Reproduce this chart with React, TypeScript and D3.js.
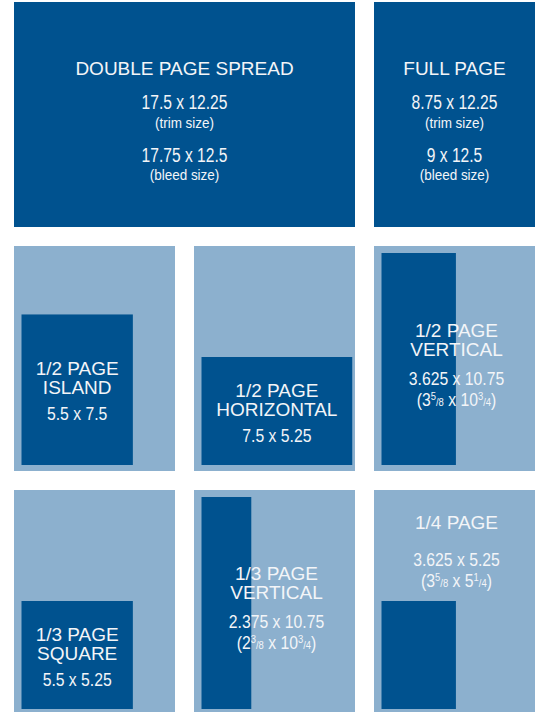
import * as d3 from "d3";

// top row: the two full-size formats
const spreadNames = ["DOUBLE PAGE SPREAD", "FULL PAGE"];
const trimSizes = ["17.5 x 12.25", "8.75 x 12.25"];
const bleedSizes = ["17.75 x 12.5", "9 x 12.5"];

// the six partial-page ads (inches)
const adNames = [
  ["1/2 PAGE", "ISLAND"],
  ["1/2 PAGE", "HORIZONTAL"],
  ["1/2 PAGE", "VERTICAL"],
  ["1/3 PAGE", "SQUARE"],
  ["1/3 PAGE", "VERTICAL"],
  ["1/4 PAGE"],
];
const adWidths = [5.5, 7.5, 3.625, 5.5, 2.375, 3.625];
const adHeights = [7.5, 5.25, 10.75, 5.25, 10.75, 5.25];
// [whole, numerator, denominator] for width and height, where printed
const adFractions = [
  null,
  null,
  [[3, 5, 8], [10, 3, 4]],
  null,
  [[2, 3, 8], [10, 3, 4]],
  [[3, 5, 8], [5, 1, 4]],
];

const DARK = "#00528f";
const LIGHT = "#8cb0ce";
const INK = "#f3f5f8";
const FONT = "'Liberation Sans', Arial, sans-serif";

// how each ad sits on its page and where its label goes
const adLayout = [
  { anchor: "bottom", center: "rect", y0: 129, gap: 26 },
  { anchor: "bottom", center: "rect", y0: 151, gap: 26 },
  { anchor: "top", center: "panel", y0: 91, gap: 29 },
  { anchor: "bottom", center: "rect", y0: 151, gap: 26 },
  { anchor: "top", center: "panel", y0: 90, gap: 29 },
  { anchor: "bottom", center: "panel", y0: 39, gap: 37 },
];

const col = d3.scaleBand<number>().domain([0, 1, 2]).range([14, 535]).paddingInner(19 / 180);
const row = d3.scaleBand<number>().domain([0, 1, 2]).range([2, 715]).paddingInner(19 / 244);
// the ad boxes are only roughly to scale in the original
const inchX = d3.scaleLinear().domain([0, 10]).range([3, 200]);
const inchY = d3.scaleLinear().domain([5.25, 10.75]).range([108, 212]);

function Label({ x, y, text, size, sx = 1 }: any) {
  return (
    <text
      transform={`translate(${x},${y}) scale(${sx},1)`}
      textAnchor="middle"
      fontSize={size}
      fontFamily={FONT}
      fill={INK}
    >
      {text}
    </text>
  );
}

function Fraction({ x, y, parts, size, sx }: any) {
  const small = size * 0.6;
  const up = size * 0.32;
  const piece = ([w, n, d]: number[]) => [
    <tspan key="w">{w}</tspan>,
    <tspan key="n" fontSize={small} dy={-up}>{n}</tspan>,
    <tspan key="s" fontSize={small} dy={up}>/</tspan>,
    <tspan key="d" fontSize={small}>{d}</tspan>,
  ];
  return (
    <text
      transform={`translate(${x},${y}) scale(${sx},1)`}
      textAnchor="middle"
      fontSize={size}
      fontFamily={FONT}
      fill={INK}
    >
      (<tspan>{piece(parts[0])}</tspan> x <tspan>{piece(parts[1])}</tspan>)
    </text>
  );
}

export default function App() {
  const bw = col.bandwidth();
  const bh = row.bandwidth();
  const top = row(0)!;

  const spreads = spreadNames.map((name, i) => {
    const x0 = i === 0 ? col(0)! : col(2)!;
    const x1 = i === 0 ? col(1)! + bw : col(2)! + bw;
    const cx = (x0 + x1) / 2;
    return (
      <g key={name}>
        <rect x={x0} y={top} width={x1 - x0} height={bh} fill={DARK} />
        <Label x={cx} y={top + 73} text={name} size={19} />
        <Label x={cx} y={top + 107} text={trimSizes[i]} size={19.5} sx={0.8} />
        <Label x={cx} y={top + 126} text="(trim size)" size={15} sx={0.9} />
        <Label x={cx} y={top + 160} text={bleedSizes[i]} size={19.5} sx={0.8} />
        <Label x={cx} y={top + 178} text="(bleed size)" size={15} sx={0.9} />
      </g>
    );
  });

  const ads = adNames.map((lines, i) => {
    const c = i % 3;
    const r = 1 + Math.floor(i / 3);
    const px = col(c)!;
    const py = row(r)!;
    const lay = adLayout[i];
    const w = inchX(adWidths[i]);
    const h = inchY(adHeights[i]);
    const rx = px + 7.5;
    const ry = lay.anchor === "top" ? py + 7 : py + bh - 6 - h;
    const cx = lay.center === "rect" ? rx + w / 2 : px + bw / 2 + 2;
    let y = py + lay.y0;
    const labels: any[] = lines.map((t, k) => (
      <Label key={t} x={cx} y={y + k * 19} text={t} size={19} />
    ));
    y += (lines.length - 1) * 19 + lay.gap;
    labels.push(
      <Label key="dim" x={cx} y={y} text={`${adWidths[i]} x ${adHeights[i]}`} size={17.5} sx={0.9} />
    );
    const frac = adFractions[i];
    if (frac) {
      labels.push(<Fraction key="frac" x={cx} y={y + 21} parts={frac} size={17.5} sx={0.9} />);
    }
    return (
      <g key={i}>
        <rect x={px} y={py} width={bw} height={bh} fill={LIGHT} />
        <rect x={rx} y={ry} width={w} height={h} fill={DARK} />
        {labels}
      </g>
    );
  });

  return (
    <svg
      width={537}
      height={712}
      style={{ position: "absolute", left: 0, top: 0, background: "#fff" }}
    >
      {spreads}
      {ads}
    </svg>
  );
}
